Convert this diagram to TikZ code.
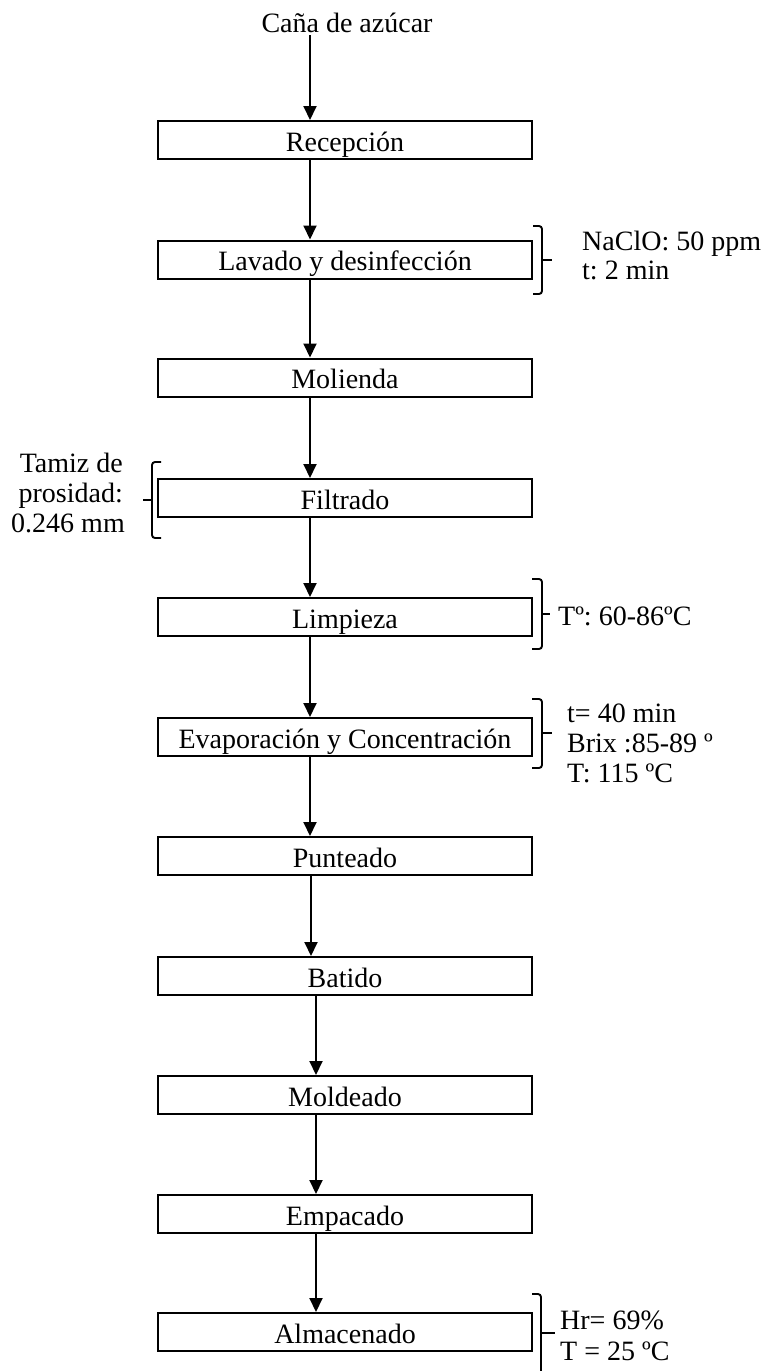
\documentclass[tikz,border=0pt]{standalone}
\usepackage{fontspec}
\setmainfont{Liberation Serif}
\usetikzlibrary{arrows.meta}
\newcommand\flowfont{\fontsize{28}{30}\selectfont}
\frenchspacing

\begin{document}
\begin{tikzpicture}[x=1pt,y=-1pt,
  stage/.style={draw, line width=2pt, minimum width=374pt, minimum height=38pt,
    inner xsep=0pt, inner ysep=0pt, text height=22pt, text depth=0pt, font=\flowfont},
  flow/.style={line width=1.9pt, -{Triangle[width=13pt,length=14pt]}},
  brace/.style={line width=1.9pt, rounded corners=3pt},
  note/.style={inner sep=0pt, font=\flowfont}
]
\useasboundingbox (0,0) rectangle (763,1371);

% process stages
\node[note, anchor=base] (src) at (347,32) {Caña de azúcar};
\node[stage] (s1)  at (345,140)  {Recepción};
\node[stage] (s2)  at (345,259.5){Lavado y desinfección};
\node[stage] (s3)  at (345,377.5){Molienda};
\node[stage] (s4)  at (345,498)  {Filtrado};
\node[stage] (s5)  at (345,617)  {Limpieza};
\node[stage] (s6)  at (345,737)  {Evaporación y Concentración};
\node[stage] (s7)  at (345,856)  {Punteado};
\node[stage] (s8)  at (345,976)  {Batido};
\node[stage] (s9)  at (345,1095) {Moldeado};
\node[stage] (s10) at (345,1214) {Empacado};
\node[stage] (s11) at (345,1332) {Almacenado};

% flow arrows
\coordinate (ax) at (310,0);
\coordinate (bx) at (311,0);
\coordinate (cx) at (316,0);
\draw[flow, shorten <=3pt] (src.south -| ax) -- (s1.north -| ax);
\draw[flow] (s1.south -| ax) -- (s2.north -| ax);
\draw[flow] (s2.south -| ax) -- (s3.north -| ax);
\draw[flow] (s3.south -| ax) -- (s4.north -| ax);
\draw[flow] (s4.south -| ax) -- (s5.north -| ax);
\draw[flow] (s5.south -| ax) -- (s6.north -| ax);
\draw[flow] (s6.south -| ax) -- (s7.north -| ax);
\draw[flow] (s7.south -| bx) -- (s8.north -| bx);
\draw[flow] (s8.south -| cx) -- (s9.north -| cx);
\draw[flow] (s9.south -| cx) -- (s10.north -| cx);
\draw[flow] (s10.south -| cx) -- (s11.north -| cx);

% washing conditions
\draw[brace] (533,226) -- (542,226) -- (542,294) -- (533,294);
\draw[line width=1.9pt] (542,260) -- (552,260);
\node[note, anchor=base west] (w1) at (582,250) {NaClO: 50 ppm};
\node[note, anchor=base west] (w2) at (582,279) {t: 2 min};

% sieve
\draw[brace] (161,462) -- (152,462) -- (152,538) -- (161,538);
\draw[line width=1.9pt] (152,500) -- (143,500);
\node[note, anchor=base east] (f1) at (123,472) {Tamiz de};
\node[note, anchor=base east] (f2) at (123,502) {prosidad:};
\node[note, anchor=base east] (f3) at (125,532) {0.246 mm};

% cleaning temperature
\draw[brace] (532,579) -- (542,579) -- (542,649) -- (532,649);
\draw[line width=1.9pt] (542,614) -- (550,614);
\node[note, anchor=base west] (c1) at (558,625) {Tº: 60-86ºC};

% evaporation conditions
\draw[brace] (532,699) -- (542,699) -- (542,768) -- (532,768);
\draw[line width=1.9pt] (542,733) -- (552,733);
\node[note, anchor=base west] (e1) at (567,722) {t= 40 min};
\node[note, anchor=base west] (e2) at (567,752) {Brix :85-89 º};
\node[note, anchor=base west] (e3) at (567,782) {T: 115 ºC};

% storage conditions
\draw[brace] (532,1294) -- (541,1294) -- (541,1385);
\draw[line width=1.9pt] (541,1333) -- (555,1333);
\node[note, anchor=base west] (a1) at (560,1329) {Hr= 69\%};
\node[note, anchor=base west] (a2) at (560,1360) {T = 25 ºC};
\end{tikzpicture}
\end{document}
